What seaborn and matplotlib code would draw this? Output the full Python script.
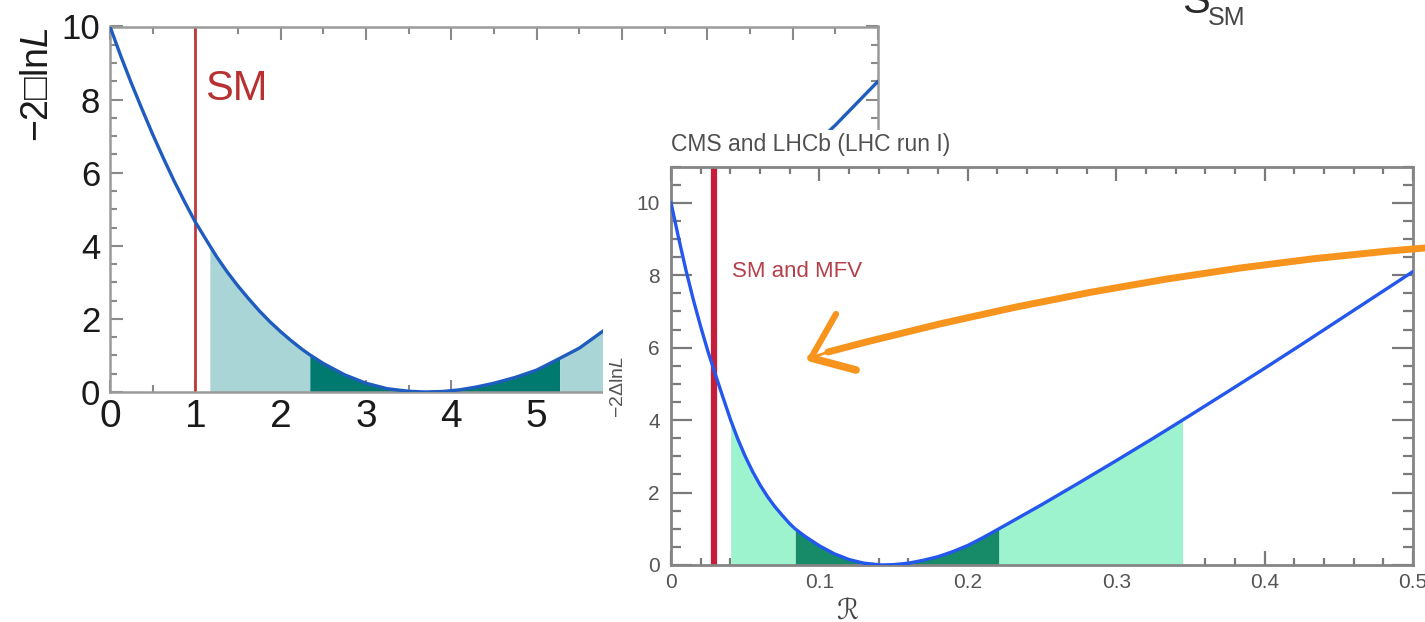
import numpy as np
import matplotlib
matplotlib.use("Agg")
import matplotlib.pyplot as plt
import seaborn as sns
from matplotlib.ticker import MultipleLocator
from matplotlib.path import Path
from matplotlib.patches import PathPatch, Rectangle

# ---------------- data: background scan (S / S_SM) ----------------
bg_x = [0.0, 0.125, 0.25, 0.375, 0.5, 0.625, 0.75, 0.875, 1.0, 1.17, 1.25, 1.375,
        1.5, 1.625, 1.75, 1.875, 2.0, 2.125, 2.25, 2.34, 2.5,
        2.75, 3.0, 3.25, 3.5, 3.7, 3.9, 4.1, 4.3, 4.5, 4.75, 5.0, 5.27, 5.5,
        5.75, 6.0, 6.5, 7.0, 7.5, 8.0, 8.5, 9.0]
bg_y = [10.0, 9.2, 8.45, 7.74, 7.05, 6.4, 5.78, 5.2, 4.65, 4.0, 3.7, 3.28,
        2.9, 2.55, 2.22, 1.92, 1.65, 1.4, 1.17, 1.02, 0.78,
        0.47, 0.24, 0.09, 0.02, 0.0, 0.015, 0.06, 0.14, 0.24, 0.4, 0.6, 0.92, 1.2,
        1.62, 2.05, 3.05, 4.1, 5.15, 6.2, 7.3, 8.5]
bg_sm = 1.0
bg_band_1sig = (2.34, 5.27)
bg_band_2sig = [(1.17, 2.34), (5.27, 7.0)]
bg_xticks = [0, 1, 2, 3, 4, 5, 6, 7, 8, 9]
bg_xticklabels = ["0", "1", "2", "3", "4", "5", "", "", "", ""]  # 6-9 hidden under inset
bg_yticks = [0, 2, 4, 6, 8, 10]

# ---------------- data: inset scan (R) ----------------
in_x = [0.0, 0.005, 0.01, 0.015, 0.02, 0.025, 0.03, 0.035, 0.0402, 0.045, 0.05,
        0.055, 0.06, 0.065, 0.07, 0.075, 0.08, 0.0836, 0.09, 0.1, 0.11, 0.12,
        0.13, 0.142, 0.15, 0.16, 0.17, 0.18, 0.19, 0.2, 0.21, 0.221, 0.25,
        0.275, 0.3, 0.325, 0.3447, 0.375, 0.4, 0.425, 0.45, 0.475, 0.5]
in_y = [10.0, 9.05, 8.15, 7.33, 6.58, 5.88, 5.25, 4.63, 4.0, 3.48, 3.0,
        2.58, 2.21, 1.89, 1.61, 1.37, 1.14, 1.0, 0.8, 0.53, 0.31, 0.15,
        0.05, 0.0, 0.01, 0.05, 0.13, 0.23, 0.37, 0.54, 0.75, 1.0, 1.67,
        2.27, 2.88, 3.5, 4.0, 4.78, 5.43, 6.09, 6.76, 7.43, 8.1]
in_sm = 0.029
in_band_1sig = (0.0836, 0.221)
in_band_2sig = [(0.0402, 0.0836), (0.221, 0.3447)]
in_xticks = [0, 0.1, 0.2, 0.3, 0.4, 0.5]
in_xticklabels = ["0", "0.1", "0.2", "0.3", "0.4", "0.5"]
in_yticks = [0, 2, 4, 6, 8, 10]

# ---------------- style ----------------
sns.set_theme(style="ticks")
plt.rcParams["font.family"] = ["Liberation Sans", "DejaVu Sans"]
plt.rcParams["mathtext.fontset"] = "custom"
plt.rcParams["mathtext.rm"] = "Liberation Sans"
plt.rcParams["mathtext.it"] = "Liberation Sans:italic"

W, H = 1425, 622
fig = plt.figure(figsize=(W / 100, H / 100), dpi=100)
fig.patch.set_facecolor("white")


def px_axes(x0, x1, ytop, ybot):
    return [x0 / W, (H - ybot) / H, (x1 - x0) / W, (ybot - ytop) / H]


# ================= background plot =================
ax = fig.add_axes(px_axes(110, 878, 26.5, 392))
ax.set_zorder(0)
bx = np.array(bg_x)
by = np.array(bg_y)
ax.fill_between(bx, 0, by, where=(bx >= bg_band_1sig[0]) & (bx <= bg_band_1sig[1]),
                color="#007a6e", lw=0, zorder=1)
for lo, hi in bg_band_2sig:
    ax.fill_between(bx, 0, by, where=(bx >= lo) & (bx <= hi),
                    color="#a9d5d6", lw=0, zorder=1)
sns.lineplot(x=bg_x, y=bg_y, ax=ax, color="#1f5cbf", lw=2.4, zorder=3)
ax.axvline(bg_sm, color="#c0393b", lw=2.0, zorder=2)
ax.text(1.11, 8.0, "SM", color="#b8302f", fontsize=30, va="baseline", ha="left")
ax.set_xlim(0, 9)
ax.set_ylim(0, 10)
ax.set_xticks(bg_xticks)
ax.set_xticklabels(bg_xticklabels)
ax.set_yticks(bg_yticks)
ax.xaxis.set_minor_locator(MultipleLocator(0.5))
ax.yaxis.set_minor_locator(MultipleLocator(0.5))
ax.tick_params(which="both", direction="in", top=True, right=True,
               color="#8a8a8a", width=1.5)
ax.tick_params(which="major", length=9, labelcolor="#1a1a1a")
ax.tick_params(axis="x", which="major", pad=5, labelsize=28)
ax.tick_params(axis="y", which="major", pad=7, labelsize=25)
ax.tick_params(which="minor", length=5)
for s in ax.spines.values():
    s.set_color("#9a9a9a")
    s.set_linewidth(1.8)
ax.set_xlabel("")
ax.set_ylabel("\u22122\u25a1ln$L$", fontsize=27, color="#1a1a1a")
ax.yaxis.set_label_coords(-0.094, 0.84)
ax.yaxis.label.set_va("center")

# ================= white cover (pasted inset picture) =================
fig.add_artist(Rectangle((603 / W, 0), (W - 603) / W, (H - 130) / H,
                         transform=fig.transFigure, facecolor="white",
                         edgecolor="none", zorder=2))

# ================= inset plot =================
ai = fig.add_axes(px_axes(671, 1413, 166.5, 565))
ai.set_zorder(3)
ix = np.array(in_x)
iy = np.array(in_y)
ai.fill_between(ix, 0, iy, where=(ix >= in_band_1sig[0]) & (ix <= in_band_1sig[1]),
                color="#178a68", lw=0, zorder=1)
for lo, hi in in_band_2sig:
    ai.fill_between(ix, 0, iy, where=(ix >= lo) & (ix <= hi),
                    color="#9ef3cf", lw=0, zorder=1)
sns.lineplot(x=in_x, y=in_y, ax=ai, color="#2457ee", lw=2.4, zorder=3)
ai.axvline(in_sm, color="#c41e3a", lw=4.5, zorder=2)
ai.text(0.041, 7.96, "SM and MFV", color="#b4404b", fontsize=16,
        va="baseline", ha="left")
ai.set_xlim(0, 0.5)
ai.set_ylim(0, 11)
ai.set_xticks(in_xticks)
ai.set_xticklabels(in_xticklabels)
ai.set_yticks(in_yticks)
ai.xaxis.set_minor_locator(MultipleLocator(0.02))
ai.yaxis.set_minor_locator(MultipleLocator(0.5))
ai.tick_params(which="both", direction="in", top=True, right=True,
               color="#7a7a7a", width=1.6, labelsize=15, labelcolor="#555555")
ai.tick_params(axis="y", which="major", length=15, pad=8)
ai.tick_params(axis="y", which="minor", length=7)
ai.tick_params(axis="x", which="major", length=10, pad=6)
ai.tick_params(axis="x", which="minor", length=5)
for s in ai.spines.values():
    s.set_color("#858585")
    s.set_linewidth(2.0)
ai.set_xlabel("\u211b", fontsize=20, color="#444444")
ai.xaxis.set_label_coords(0.237, -0.12)
ai.xaxis.label.set_va("center")
ai.set_ylabel("\u22122\u0394ln$L$", fontsize=14, color="#555555")
ai.yaxis.set_label_coords(-0.071, 0.447)
ai.yaxis.label.set_va("center")

# ================= overlay: titles and hand-drawn arrow =================
ov = fig.add_axes([0, 0, 1, 1])
ov.set_zorder(5)
ov.set_xlim(0, W)
ov.set_ylim(H, 0)
ov.axis("off")

ov.text(671, 151.5, "CMS and LHCb (LHC run I)", fontsize=16.5, color="#505050",
        va="baseline", ha="left")
ov.text(1182, 13, "S", fontsize=30, color="#2a2a2a", va="baseline", ha="left")
ov.text(1208, 25, "SM", fontsize=18, color="#444444", va="baseline", ha="left")

orange = "#f7941d"
body = Path([(1425, 248), (1130, 271), (828, 352)],
            [Path.MOVETO, Path.CURVE3, Path.CURVE3])
ov.add_patch(PathPatch(body, fill=False, edgecolor=orange, lw=5.0,
                       capstyle="round"))
ov.plot([811, 836], [358, 314], color=orange, lw=4.5, solid_capstyle="round")
ov.plot([811, 856], [358, 370], color=orange, lw=5.5, solid_capstyle="round")
ov.plot([811, 828], [358, 352], color=orange, lw=2.0, solid_capstyle="round")

fig.savefig("out.png", dpi=100, facecolor="white")
